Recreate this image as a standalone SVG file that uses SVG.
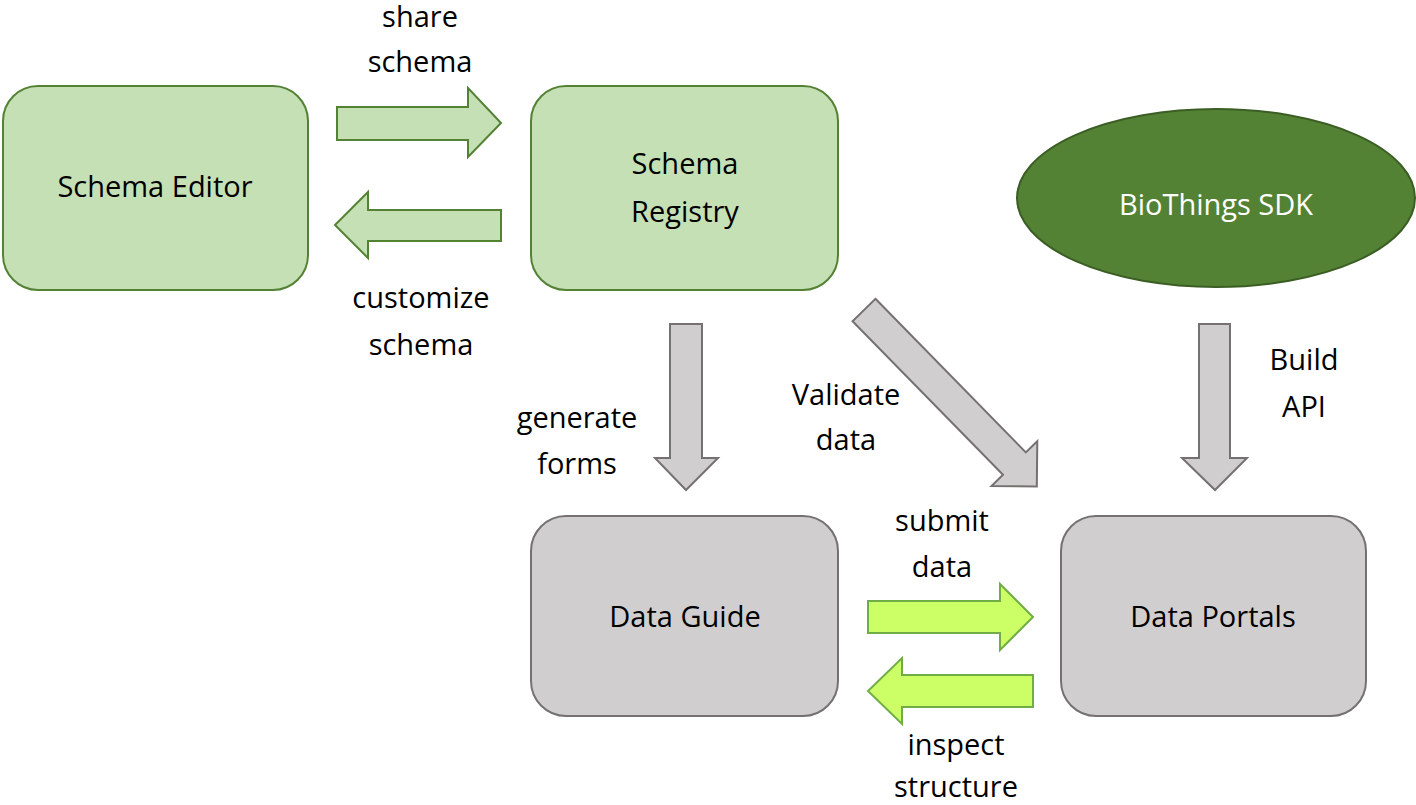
<svg xmlns="http://www.w3.org/2000/svg" width="1416" height="805" viewBox="0 0 1416 805">
<style>
text{font-family:"Open Sans","Liberation Sans",sans-serif;font-size:29px;fill:#000;text-anchor:middle}
.g{fill:#c5e0b4;stroke:#548235;stroke-width:2}
.gr{fill:#d0cece;stroke:#767171;stroke-width:2}
.ga{fill:#c5e0b4;stroke:#548235;stroke-width:2}
.la{fill:#ccff66;stroke:#70ad47;stroke-width:2}
.w{fill:#fff}
</style>
<rect width="1416" height="805" fill="#fff"/>
<g id="connectors">
<polygon class="ga" points="337,107 468,107 468,88 501,123 468,157 468,140 337,140"/>
<polygon class="ga" points="501,210 368,210 368,192 335,225 368,258 368,241 501,241"/>
<polygon class="gr" points="670,324 702,324 702,458 718,458 686,490 655,458 670,458"/>
<polygon class="gr" points="1199,324 1230,324 1230,458 1247,458 1215,490 1182,458 1199,458"/>
<polygon class="gr" transform="translate(864,310) rotate(45.6)" points="0,-16 215,-16 215,-32 247,0 215,32 215,16 0,16"/>
<polygon class="la" points="868,601 1000,601 1000,584 1033,617 1000,650 1000,633 868,633"/>
<polygon class="la" points="1033,675 902,675 902,658 868,691 902,724 902,707 1033,707"/>
<text x="420" y="27">share</text><text x="420" y="72">schema</text>
<text x="421" y="308">customize</text><text x="421" y="355">schema</text>
<text x="577" y="428">generate</text><text x="577" y="474">forms</text>
<text x="846" y="405">Validate</text><text x="846" y="450">data</text>
<text x="1304" y="370">Build</text><text x="1304" y="417">API</text>
<text x="942" y="531">submit</text><text x="942" y="577">data</text>
<text x="956" y="755">inspect</text><text x="956" y="797">structure</text>
</g>
<g id="schema-editor"><rect class="g" x="3" y="86" width="305" height="204" rx="35"/><text x="155" y="197">Schema Editor</text></g>
<g id="schema-registry"><rect class="g" x="531" y="86" width="307" height="204" rx="35"/><text x="685" y="174">Schema</text><text x="685" y="222">Registry</text></g>
<g id="biothings-sdk"><ellipse cx="1216" cy="198" rx="199" ry="89" fill="#548235" stroke="#3b5e24" stroke-width="2"/><text class="w" x="1216" y="215">BioThings SDK</text></g>
<g id="data-guide"><rect class="gr" x="531" y="516" width="307" height="200" rx="35"/><text x="685" y="627">Data Guide</text></g>
<g id="data-portals"><rect class="gr" x="1061" y="516" width="305" height="200" rx="35"/><text x="1213" y="627">Data Portals</text></g>
</svg>
